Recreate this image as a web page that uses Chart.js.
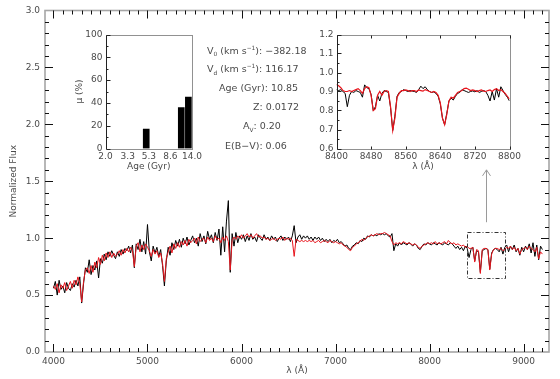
<!DOCTYPE html>
<html><head><meta charset="utf-8">
<script src="https://cdn.jsdelivr.net/npm/chart.js@4.4.1/dist/chart.umd.min.js"></script>
<style>
html,body{margin:0;padding:0;background:#fff;}
#wrap{position:relative;width:560px;height:379px;background:#fff;}
#wrap canvas{position:absolute;left:0;top:0;}
</style></head><body>
<div id="wrap">
<canvas id="main" width="560" height="379"></canvas>
<canvas id="bars" width="560" height="379"></canvas>
<canvas id="zoom" width="560" height="379"></canvas>
</div>
<script>
// ---------------- DATA ----------------
// main spectrum sampling: 4000..9200 A every 20 A
const mainWaveStart = 4000, mainWaveStep = 20;
const observedFlux = [
0.56,0.62,0.50,0.63,0.55,0.58,0.52,0.61,0.56,0.54,
0.60,0.57,0.63,0.58,0.66,0.43,0.60,0.74,0.70,0.81,
0.68,0.76,0.72,0.80,0.65,0.82,0.78,0.86,0.81,0.88,
0.84,0.89,0.85,0.82,0.88,0.84,0.90,0.86,0.91,0.89,
0.93,0.87,0.94,0.74,0.95,0.90,0.99,0.88,0.97,0.86,
1.12,0.88,0.80,0.93,0.87,0.92,0.84,0.90,0.76,0.58,
0.80,0.92,0.85,0.96,0.90,0.98,0.93,0.99,0.92,1.00,
0.95,1.01,0.94,0.98,1.02,0.96,1.00,0.93,1.04,0.97,
1.02,0.95,1.06,0.99,1.03,0.96,1.05,0.98,1.08,0.85,
1.10,0.88,1.15,1.33,0.70,1.04,0.93,1.05,0.96,1.02,
0.99,1.03,0.97,1.02,0.98,1.04,0.99,1.01,0.97,1.03,
1.00,0.98,1.03,0.99,1.01,0.98,1.02,0.99,1.01,0.97,
1.00,1.02,0.98,1.01,0.99,1.01,0.97,1.02,1.11,0.96,
1.01,1.03,0.99,1.02,1.00,1.02,0.99,1.01,0.98,1.01,
0.99,1.01,0.98,1.00,0.97,0.99,0.97,0.99,0.96,0.98,
0.97,0.99,0.96,0.97,0.95,0.93,0.94,0.91,0.90,0.93,
0.94,0.96,0.95,0.98,0.97,1.00,0.99,1.02,1.01,1.03,
1.02,1.03,1.02,1.04,1.03,1.04,1.03,1.04,1.02,1.01,
1.04,0.89,0.95,0.93,0.96,0.94,0.96,0.95,0.94,0.96,
0.95,0.93,0.95,0.94,0.91,0.90,0.93,0.95,0.94,0.96,
0.95,0.94,0.96,0.95,0.94,0.96,0.95,0.94,0.96,0.95,
0.94,0.96,0.95,0.93,0.91,0.93,0.90,0.92,0.89,0.93,
0.91,0.83,0.90,0.92,0.80,0.89,0.88,0.70,0.89,0.90,
0.91,0.90,0.73,0.87,0.90,0.91,0.90,0.88,0.92,0.86,
0.92,0.94,0.88,0.93,0.90,0.94,0.88,0.91,0.85,0.92,
0.88,0.93,0.90,0.95,0.87,0.96,0.84,0.94,0.81,0.93,
0.90];
const modelFlux = [
0.58,0.55,0.60,0.52,0.59,0.56,0.61,0.54,0.58,0.62,
0.56,0.63,0.59,0.66,0.60,0.44,0.62,0.72,0.74,0.69,
0.76,0.70,0.79,0.74,0.83,0.77,0.85,0.80,0.87,0.83,
0.88,0.83,0.87,0.84,0.86,0.89,0.85,0.90,0.87,0.91,
0.88,0.92,0.89,0.75,0.93,0.96,0.88,0.94,0.90,0.95,
0.92,0.89,0.84,0.90,0.86,0.89,0.83,0.87,0.78,0.62,
0.82,0.88,0.93,0.87,0.95,0.91,0.96,0.92,0.97,0.94,
0.98,0.93,0.99,0.96,0.98,1.00,0.95,1.01,0.97,0.99,
1.00,0.96,1.01,0.98,1.00,0.97,1.02,0.99,1.00,0.96,
1.01,0.98,1.02,0.97,0.72,0.98,1.01,0.99,1.02,1.00,
1.03,1.00,1.02,1.04,1.01,1.03,1.00,1.02,1.04,1.01,
1.02,1.00,1.01,0.99,1.00,0.98,0.99,1.00,0.98,0.99,
1.00,0.99,1.01,0.98,1.00,0.99,1.00,0.98,0.84,0.99,
0.98,0.97,0.98,0.97,0.98,0.97,0.98,0.97,0.98,0.96,
0.97,0.98,0.96,0.97,0.98,0.97,0.96,0.98,0.97,0.96,
0.97,0.96,0.95,0.96,0.94,0.93,0.92,0.90,0.89,0.92,
0.93,0.95,0.96,0.97,0.99,0.98,1.00,1.01,1.02,1.03,
1.02,1.03,1.04,1.03,1.04,1.04,1.05,1.04,1.03,1.02,
0.97,0.94,0.96,0.95,0.96,0.95,0.97,0.96,0.95,0.96,
0.95,0.94,0.95,0.94,0.92,0.91,0.93,0.94,0.95,0.96,
0.95,0.96,0.95,0.97,0.95,0.96,0.95,0.96,0.97,0.95,
0.98,0.96,0.95,0.96,0.94,0.95,0.94,0.93,0.94,0.92,
0.93,0.91,0.91,0.92,0.79,0.90,0.89,0.69,0.90,0.91,
0.91,0.90,0.72,0.86,0.90,0.91,0.91,0.90,0.91,0.89,
0.90,0.92,0.91,0.93,0.90,0.92,0.89,0.91,0.86,0.90,
0.91,0.92,0.90,0.93,0.91,0.90,0.88,0.92,0.82,0.88,
0.86];
const mainXTicks = [4000,5000,6000,7000,8000,9000];
const mainYTicks = [0.0,0.5,1.0,1.5,2.0,2.5,3.0];

// zoom inset (Ca triplet) sampling: 8400..8800 A every 5 A
const zoomWaveStart = 8400, zoomWaveStep = 5;
const zoomObserved = [
0.910,0.905,0.910,0.900,0.890,0.820,0.880,0.900,0.895,0.905,
0.900,0.895,0.870,0.935,0.920,0.915,0.885,0.800,0.820,0.880,
0.850,0.890,0.905,0.900,0.895,0.815,0.695,0.770,0.875,0.895,
0.900,0.910,0.905,0.900,0.905,0.902,0.900,0.895,0.910,0.928,
0.915,0.925,0.910,0.900,0.895,0.898,0.890,0.875,0.835,0.760,
0.725,0.785,0.850,0.865,0.855,0.875,0.890,0.895,0.910,0.905,
0.900,0.895,0.900,0.903,0.898,0.905,0.895,0.900,0.905,0.900,
0.880,0.850,0.900,0.855,0.915,0.870,0.925,0.905,0.885,0.870,
0.850];
const zoomModel = [
0.937,0.930,0.920,0.905,0.900,0.900,0.905,0.900,0.905,0.910,
0.915,0.905,0.890,0.915,0.925,0.920,0.880,0.800,0.810,0.880,
0.900,0.880,0.900,0.905,0.900,0.820,0.695,0.760,0.870,0.890,
0.905,0.905,0.908,0.905,0.900,0.905,0.905,0.900,0.908,0.905,
0.902,0.910,0.905,0.900,0.895,0.900,0.895,0.880,0.840,0.760,
0.725,0.780,0.850,0.870,0.865,0.880,0.895,0.900,0.905,0.915,
0.918,0.912,0.905,0.908,0.905,0.900,0.905,0.908,0.902,0.900,
0.905,0.908,0.900,0.910,0.915,0.905,0.910,0.900,0.890,0.875,
0.860];
const zoomXTicks = [8400,8480,8560,8640,8720,8800];
const zoomYTicks = [0.6,0.7,0.8,0.9,1.0,1.1,1.2];

// age distribution inset
const ageTickValues = [2.0,3.3,5.3,8.6,14.0];
const ageTickLabels = ['2.0','3.3','5.3','8.6','14.0'];
const barAges = [5.0, 11.0, 12.9];
const barFractions = [17, 36, 45];
const fracTicks = [0,20,40,60,80,100];

// fit results text
const statLines = [
  [{t:'V'},{t:'0',sub:1},{t:' (km s'},{t:'\u22121',sup:1},{t:'): \u2212382.18'}],
  [{t:'V'},{t:'d',sub:1},{t:' (km s'},{t:'\u22121',sup:1},{t:'): 116.17'}],
  [{t:'Age (Gyr): 10.85'}],
  [{t:'Z: 0.0172'}],
  [{t:'A'},{t:'V',sub:1},{t:': 0.20'}],
  [{t:'E(B\u2212V): 0.06'}]
];
// annotation: zoom window and arrow (data units)
const zoomWindow = {x0:8400, x1:8800, y0:0.65, y1:1.05};
const arrowSpec = {x:8600, yFrom:1.14, yTo:1.60};

// ---------------- HELPERS ----------------
const FONT = '"DejaVu Sans", "Liberation Sans", sans-serif';
Chart.defaults.font.family = FONT;
const LABEL_COLOR = '#4a4a4a';

function pts(start, step, arr){ return arr.map((v,i)=>({x:start+step*i, y:v})); }

function drawRich(ctx, x, y, segs, size){
  let cx = x;
  ctx.textBaseline = 'alphabetic'; ctx.textAlign='left';
  for (const s of segs){
    const fs = (s.sub||s.sup) ? size*0.62 : size;
    ctx.font = fs + 'px ' + FONT;
    const dy = s.sub ? size*0.28 : (s.sup ? -size*0.42 : 0);
    ctx.fillText(s.t, cx, y+dy);
    cx += ctx.measureText(s.t).width;
  }
}

function baseOpts(pad){
  return {
    responsive:false, animation:false, events:[],
    layout:{padding:pad},
    plugins:{legend:{display:false}, tooltip:{enabled:false}, title:{display:false}}
  };
}
const NOGRID = {display:false, drawTicks:false, tickLength:0};

// ---------------- MAIN CHART ----------------
const mainFrame = {
  id:'mainFrame',
  afterDraw(chart){
    const {ctx, chartArea:a, scales:{x,y}} = chart;
    ctx.save();
    // frame
    ctx.strokeStyle = '#a6a6a6'; ctx.lineWidth = 1.6;
    ctx.strokeRect(a.left, a.top, a.right-a.left, a.bottom-a.top);
    // ticks
    ctx.strokeStyle = '#111'; ctx.lineWidth = 1;
    ctx.beginPath();
    for (let v=4000; v<=9200; v+=100){
      const px = Math.round(x.getPixelForValue(v))+0.5;
      const len = (v%1000===0) ? 8 : 4;
      ctx.moveTo(px, a.bottom); ctx.lineTo(px, a.bottom-len);
      ctx.moveTo(px, a.top); ctx.lineTo(px, a.top+len);
    }
    for (let k=1; k<30; k++){
      const v = k/10;
      const py = Math.round(y.getPixelForValue(v))+0.5;
      const len = (k%5===0) ? 8 : 4;
      ctx.moveTo(a.left, py); ctx.lineTo(a.left+len, py);
      ctx.moveTo(a.right, py); ctx.lineTo(a.right-len, py);
    }
    ctx.stroke();
    // zoom window (dash-dot)
    const bx0 = x.getPixelForValue(zoomWindow.x0), bx1 = x.getPixelForValue(zoomWindow.x1);
    const by0 = y.getPixelForValue(zoomWindow.y0), by1 = y.getPixelForValue(zoomWindow.y1);
    ctx.strokeStyle = '#333'; ctx.lineWidth = 1;
    ctx.setLineDash([4,2,1,2]);
    ctx.strokeRect(Math.round(bx0)+0.5, Math.round(by1)+0.5, Math.round(bx1-bx0), Math.round(by0-by1));
    ctx.setLineDash([]);
    // arrow
    const ax = Math.round(x.getPixelForValue(arrowSpec.x))+0.5;
    const ay0 = y.getPixelForValue(arrowSpec.yFrom), ay1 = y.getPixelForValue(arrowSpec.yTo);
    ctx.strokeStyle = '#9a9a9a'; ctx.lineWidth = 1;
    ctx.beginPath();
    ctx.moveTo(ax, ay0); ctx.lineTo(ax, ay1);
    ctx.moveTo(ax-4, ay1+6); ctx.lineTo(ax, ay1); ctx.lineTo(ax+4, ay1+6);
    ctx.stroke();
    // axis titles
    ctx.fillStyle = LABEL_COLOR;
    ctx.font = '9px ' + FONT;
    ctx.textAlign = 'center'; ctx.textBaseline = 'middle';
    ctx.fillText('\u03bb (\u00c5)', (a.left+a.right)/2, 371);
    ctx.save();
    ctx.translate(14, (a.top+a.bottom)/2);
    ctx.rotate(-Math.PI/2);
    ctx.fillText('Normalized Flux', 0, 0);
    ctx.restore();
    // fit results
    const starts = [207, 207, 219, 253, 243, 225];
    const bases = [53.5, 72, 91, 110, 129, 148.5];
    statLines.forEach((segs,i)=> drawRich(ctx, starts[i], bases[i], segs, 9.5));
    ctx.restore();
  }
};

new Chart(document.getElementById('main'), {
  type:'line',
  data:{datasets:[
    {data:pts(mainWaveStart, mainWaveStep, modelFlux), borderColor:'#e8141c', borderWidth:1, pointRadius:0, tension:0, order:0},
    {data:pts(mainWaveStart, mainWaveStep, observedFlux), borderColor:'#000', borderWidth:1, pointRadius:0, tension:0, order:1}
  ]},
  options:Object.assign(baseOpts({left:0,right:11,top:10.5,bottom:0}), {
    scales:{
      x:{type:'linear', min:3910, max:9270, grid:NOGRID, border:{display:false},
         afterBuildTicks:s=>{ s.ticks = mainXTicks.map(v=>({value:v})); },
         afterFit:s=>{ s.height = 27; },
         ticks:{color:LABEL_COLOR, font:{size:9}, padding:4, maxRotation:0, autoSkip:false, callback:v=>String(v)}},
      y:{type:'linear', min:0, max:3, grid:NOGRID, border:{display:false},
         afterBuildTicks:s=>{ s.ticks = mainYTicks.map(v=>({value:v})); },
         afterFit:s=>{ s.width = 45; },
         ticks:{color:LABEL_COLOR, font:{size:9}, padding:5, callback:v=>Number(v).toFixed(1)}}
    }
  }),
  plugins:[mainFrame]
});

// ---------------- INSET FRAME HELPER ----------------
function insetFrame(id, yMajor, yMinor, xMajor, titles){
  return {
    id,
    afterDraw(chart){
      const {ctx, chartArea:a, scales:{x,y}} = chart;
      const L=Math.round(a.left)+0.5, R=Math.round(a.right)+0.5, T=Math.round(a.top)+0.5, B=Math.round(a.bottom)+0.5;
      ctx.save();
      // dotted edges
      ctx.strokeStyle = '#222'; ctx.lineWidth = 1;
      ctx.setLineDash([1,1]);
      ctx.beginPath();
      ctx.moveTo(L,T); ctx.lineTo(R,T); ctx.lineTo(R,B); ctx.lineTo(L,B);
      ctx.stroke();
      ctx.setLineDash([]);
      ctx.beginPath();
      ctx.moveTo(L,T); ctx.lineTo(L,B);
      yMinor.forEach(v=>{ const py=Math.round(y.getPixelForValue(v))+0.5; ctx.moveTo(L,py); ctx.lineTo(L+2,py); });
      yMajor.forEach(v=>{ const py=Math.round(y.getPixelForValue(v))+0.5; ctx.moveTo(L,py); ctx.lineTo(L+4,py); });
      xMajor.forEach(v=>{ const px=Math.round(x.getPixelForValue(v))+0.5; ctx.moveTo(px,B); ctx.lineTo(px,B-3); ctx.moveTo(px,T); ctx.lineTo(px,T+3); });
      ctx.stroke();
      ctx.fillStyle = LABEL_COLOR;
      ctx.font = '9px ' + FONT;
      ctx.textAlign='center'; ctx.textBaseline='middle';
      ctx.fillText(titles.x, (a.left+a.right)/2, 167);
      if (titles.y){
        ctx.save(); ctx.translate(titles.yx, (a.top+a.bottom)/2); ctx.rotate(-Math.PI/2);
        ctx.fillText(titles.y, 0, 0); ctx.restore();
      }
      ctx.restore();
    }
  };
}

// ---------------- AGE BAR INSET ----------------
new Chart(document.getElementById('bars'), {
  type:'bar',
  data:{datasets:[{
    data:barAges.map((a,i)=>({x:a, y:barFractions[i]})),
    backgroundColor:'#000', borderWidth:0, barThickness:6
  }]},
  options:Object.assign(baseOpts({left:75.5, right:368, top:34.5, bottom:200.5}), {
    scales:{
      x:{type:'logarithmic', min:2, max:14, offset:false, grid:NOGRID, border:{display:false},
         afterBuildTicks:s=>{ s.ticks = ageTickValues.map(v=>({value:v})); },
         afterFit:s=>{ s.height = 30; },
         ticks:{color:LABEL_COLOR, font:{size:9}, padding:3, maxRotation:0, autoSkip:false,
                callback:(v,i)=>ageTickLabels[i]}},
      y:{type:'linear', min:0, max:100, grid:NOGRID, border:{display:false},
         afterBuildTicks:s=>{ s.ticks = fracTicks.map(v=>({value:v})); },
         afterFit:s=>{ s.width = 30; },
         ticks:{color:LABEL_COLOR, font:{size:9}, padding:3, callback:v=>String(v)}}
    }
  }),
  plugins:[insetFrame('barFrame', fracTicks, [10,30,50,70,90], [], {x:'Age (Gyr)', y:'\u03bc (%)', yx:80})]
});

// ---------------- CA TRIPLET INSET ----------------
new Chart(document.getElementById('zoom'), {
  type:'line',
  data:{datasets:[
    {data:pts(zoomWaveStart, zoomWaveStep, zoomModel), borderColor:'#e8141c', borderWidth:1.2, pointRadius:0, tension:0, order:0},
    {data:pts(zoomWaveStart, zoomWaveStep, zoomObserved), borderColor:'#000', borderWidth:1, pointRadius:0, tension:0, order:1}
  ]},
  options:Object.assign(baseOpts({left:306.5, right:50.5, top:34.5, bottom:200.5}), {
    scales:{
      x:{type:'linear', min:8400, max:8800, grid:NOGRID, border:{display:false},
         afterBuildTicks:s=>{ s.ticks = zoomXTicks.map(v=>({value:v})); },
         afterFit:s=>{ s.height = 30; },
         ticks:{color:LABEL_COLOR, font:{size:9}, padding:3, maxRotation:0, autoSkip:false, callback:v=>String(v)}},
      y:{type:'linear', min:0.6, max:1.2, grid:NOGRID, border:{display:false},
         afterBuildTicks:s=>{ s.ticks = zoomYTicks.map(v=>({value:v})); },
         afterFit:s=>{ s.width = 30; },
         ticks:{color:LABEL_COLOR, font:{size:9}, padding:3, callback:v=>Number(v).toFixed(1)}}
    }
  }),
  plugins:[insetFrame('zoomFrame', zoomYTicks, [0.65,0.75,0.85,0.95,1.05,1.15], zoomXTicks, {x:'\u03bb (\u00c5)'})]
});
</script>
</body></html>
